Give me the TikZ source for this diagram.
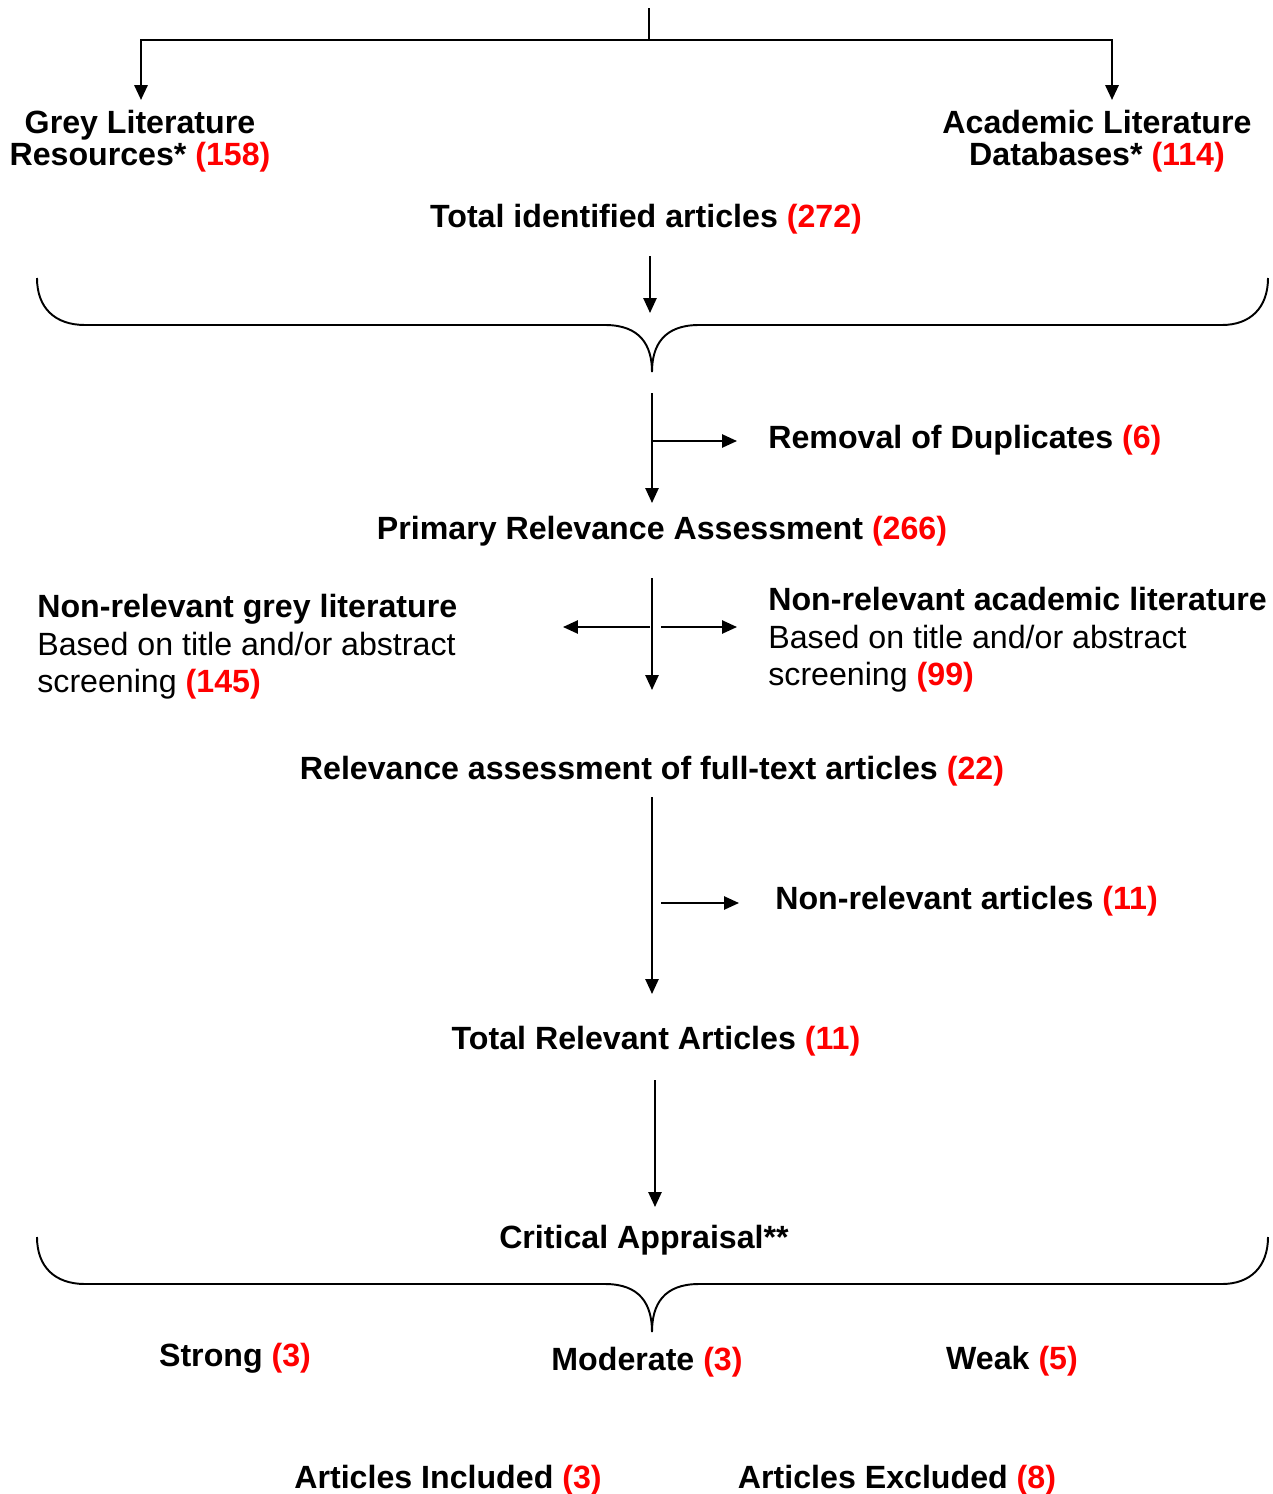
\documentclass[tikz,border=0pt]{standalone}
\usepackage{fontspec}
\setmainfont{Liberation Sans}
\usetikzlibrary{arrows.meta}
\definecolor{numred}{RGB}{255,0,0}
\newcommand{\rednum}[1]{\textcolor{numred}{#1}}
\begin{document}
\begin{tikzpicture}[x=0.02cm,y=-0.02cm,
  lbl/.style={inner sep=0pt, font=\fontsize{18.3}{18.2}\selectfont\bfseries, align=center},
  blk/.style={inner sep=0pt, font=\fontsize{18.3}{21.3}\selectfont, align=left, anchor=west},
  conn/.style={line width=1.1pt, -{Triangle[length=8.5pt,width=7.5pt]}},
  plainline/.style={line width=1.1pt},
  bracestyle/.style={line width=1.1pt}]
\useasboundingbox (0,0) rectangle (1273,1494);

% nodes
\node[lbl] (grey) at (140,141) {Grey Literature\\Resources* \rednum{(158)}};
\node[lbl] (acad) at (1097,141) {Academic Literature\\Databases* \rednum{(114)}};
\node[lbl] (total) at (646,219) {Total identified articles \rednum{(272)}};
\node[lbl, anchor=west] (dup) at (768,440) {Removal of Duplicates \rednum{(6)}};
\node[lbl] (primary) at (662,531) {Primary Relevance Assessment \rednum{(266)}};
\node[blk] (nrgrey) at (37,647) {\textbf{Non-relevant grey literature}\\Based on title and/or abstract\\screening \textbf{\rednum{(145)}}};
\node[blk] (nracad) at (768,640) {\textbf{Non-relevant academic literature}\\Based on title and/or abstract\\screening \textbf{\rednum{(99)}}};
\node[lbl] (fulltext) at (652,771) {Relevance assessment of full-text articles \rednum{(22)}};
\node[lbl, anchor=west] (nrart) at (775,901) {Non-relevant articles \rednum{(11)}};
\node[lbl] (relevant) at (656,1041) {Total Relevant Articles \rednum{(11)}};
\node[lbl] (critical) at (644,1240) {Critical Appraisal**};
\node[lbl] (strong) at (235,1358) {Strong \rednum{(3)}};
\node[lbl] (moderate) at (647,1362) {Moderate \rednum{(3)}};
\node[lbl] (weak) at (1012,1361) {Weak \rednum{(5)}};
\node[lbl] (incl) at (448,1480) {Articles Included \rednum{(3)}};
\node[lbl] (excl) at (897,1480) {Articles Excluded \rednum{(8)}};

% coordinates
\coordinate (t0) at (649,8);
\coordinate (t1) at (649,40);
\coordinate (tl) at (141,40);
\coordinate (tr) at (1112,40);
\coordinate (tla) at (141,100);
\coordinate (tra) at (1112,100);
\coordinate (a1s) at (650,256);
\coordinate (a1e) at (650,313);
\coordinate (a2s) at (652,393);
\coordinate (a2e) at (652,503);
\coordinate (d1s) at (651,441);
\coordinate (d1e) at (737,441);
\coordinate (a3s) at (652,578);
\coordinate (a3e) at (652,690);
\coordinate (l1s) at (650,627);
\coordinate (l1e) at (563,627);
\coordinate (r1s) at (661,627);
\coordinate (r1e) at (737,627);
\coordinate (a4s) at (652,797);
\coordinate (a4e) at (652,994);
\coordinate (n1s) at (661,903);
\coordinate (n1e) at (739,903);
\coordinate (a5s) at (655,1080);
\coordinate (a5e) at (655,1207);

% connectors
\draw[plainline] (t0) -- (t1);
\draw[conn, line width=1.4pt] (t1) -- (tl) -- (tla);
\draw[conn, line width=1.4pt] (t1) -- (tr) -- (tra);
\draw[conn] (a1s) -- (a1e);
\draw[conn] (a2s) -- (a2e);
\draw[conn] (d1s) -- (d1e);
\draw[conn] (a3s) -- (a3e);
\draw[conn] (l1s) -- (l1e);
\draw[conn] (r1s) -- (r1e);
\draw[conn] (a4s) -- (a4e);
\draw[conn] (n1s) -- (n1e);
\draw[conn] (a5s) -- (a5e);

% braces
\draw[bracestyle] (37,278) .. controls (37,308) and (55,325) .. (85,325)
  -- (605,325) .. controls (640,325) and (652,345) .. (652,372)
  .. controls (652,345) and (664,325) .. (699,325)
  -- (1222,325) .. controls (1250,325) and (1268,308) .. (1268,278);
\draw[bracestyle] (37,1237) .. controls (37,1267) and (55,1284) .. (85,1284)
  -- (605,1284) .. controls (640,1284) and (652,1304) .. (652,1332)
  .. controls (652,1304) and (664,1284) .. (699,1284)
  -- (1222,1284) .. controls (1250,1284) and (1268,1267) .. (1268,1237);
\end{tikzpicture}
\end{document}
